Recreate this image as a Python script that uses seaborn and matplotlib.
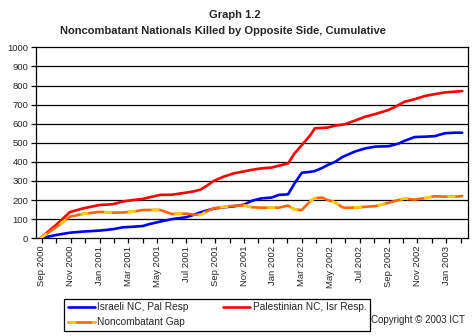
import matplotlib
matplotlib.use("Agg")
import matplotlib.pyplot as plt
from matplotlib.lines import Line2D
from matplotlib.legend_handler import HandlerTuple
import seaborn as sns
import pandas as pd

# months since Sep 2000 (0 = "Sep 2000" tick)
months = [-0.1, 1.0, 1.95, 2.9, 4.0, 4.9, 5.6, 6.3, 7.0, 7.5, 8.2, 9.0, 10.0, 10.5,
          11.0, 11.4, 11.9, 12.6, 13.3, 14.0, 14.5, 15.2, 15.9, 16.4, 17.05, 17.5,
          18.0, 18.6, 18.9, 19.4, 19.8, 20.3, 20.8, 21.0, 21.7, 22.4, 23.1, 24.0,
          24.7, 25.1, 25.8, 26.5, 27.2, 27.9, 28.6, 29.1]
palestinian = [0, 70, 137, 157, 174, 178, 192, 200, 206, 215, 227, 228, 239, 245,
               255, 274, 300, 323, 340, 350, 358, 366, 370, 380, 392, 445,
               488, 541, 576, 578, 580, 590, 595, 598, 617, 637, 651, 672,
               698, 715, 728, 745, 755, 764, 768, 771]
israeli = [0, 17, 29, 35, 40, 47, 57, 60, 64, 75, 87, 100, 110, 122,
           136, 145, 155, 162, 167, 176, 195, 209, 213, 227, 230, 288,
           343, 348, 352, 368, 384, 400, 425, 432, 455, 471, 480, 482,
           496, 510, 530, 532, 535, 550, 553, 553]
gap = [0, 58, 113, 128, 138, 134, 135, 139, 148, 148, 148, 127, 129, 124,
       122, 140, 157, 164, 170, 172, 163, 160, 160, 160, 171, 150,
       148, 195, 210, 213, 200, 188, 162, 160, 160, 165, 168, 186,
       200, 208, 202, 210, 220, 218, 218, 221]

tick_labels = ["Sep 2000", "", "Nov 2000", "", "Jan 2001", "", "Mar 2001", "",
               "May 2001", "", "Jul 2001", "", "Sep 2001", "", "Nov 2001", "",
               "Jan 2002", "", "Mar 2002", "", "May 2002", "", "Jul 2002", "",
               "Sep 2002", "", "Nov 2002", "", "Jan 2003", ""]
y_ticks = [0, 100, 200, 300, 400, 500, 600, 700, 800, 900, 1000]

sns.set_style("white")
plt.rcParams['font.family'] = ['Liberation Sans', 'DejaVu Sans']

df = pd.DataFrame({"month": months, "pal": palestinian, "isr": israeli, "gap": gap})

fig = plt.figure(figsize=(4.73, 3.36), dpi=100)
ax = fig.add_axes([0.0755, 0.291, 0.9139, 0.568])

for v in y_ticks[1:-1]:
    ax.axhline(v, color="black", lw=0.9, zorder=1)

sns.lineplot(data=df, x="month", y="isr", color="#0000FF", lw=1.9, ax=ax, zorder=3)
sns.lineplot(data=df, x="month", y="pal", color="#FF0000", lw=1.9, ax=ax, zorder=3)
sns.lineplot(data=df, x="month", y="gap", color="#FF6600", lw=1.9, ax=ax, zorder=4)
sns.lineplot(data=df, x="month", y="gap", color="#FFCC00", lw=1.9, ax=ax, zorder=5,
             dashes=False).lines[-1].set_dashes([3, 6])

ax.set_xlim(-0.415, 29.5)
ax.set_ylim(0, 1000)
ax.set_xticks(range(len(tick_labels)))
ax.set_xticklabels(tick_labels, rotation=90, fontsize=6.8)
ax.set_yticks(y_ticks)
ax.set_yticklabels([str(v) for v in y_ticks], fontsize=6.8)
ax.set_xlabel("")
ax.set_ylabel("")
ax.tick_params(axis="both", direction="out", length=3.5, width=0.9, color="black",
               bottom=True, left=True, pad=2)
for s in ax.spines.values():
    s.set_color("black")
    s.set_linewidth(0.9)
    s.set_visible(True)

fig.text(0.497, 1 - 15 / 336, "Graph 1.2", ha="center", va="center",
         fontsize=8, fontweight="bold")
fig.text(0.472, 1 - 31 / 336, "Noncombatant Nationals Killed by Opposite Side, Cumulative",
         ha="center", va="center", fontsize=8, fontweight="bold")

h_blue = Line2D([], [], color="#0000FF", lw=1.9)
h_red = Line2D([], [], color="#FF0000", lw=1.9)
h_gap_o = Line2D([], [], color="#FF6600", lw=1.9)
h_gap_y = Line2D([], [], color="#FFCC00", lw=1.9, dashes=[3, 6], dash_capstyle="butt")
leg = fig.legend([h_blue, (h_gap_o, h_gap_y), h_red],
                 ["Israeli NC, Pal Resp", "Noncombatant Gap", "Palestinian NC, Isr Resp."],
                 handler_map={tuple: HandlerTuple(ndivide=1)},
                 ncol=2, loc="lower left", bbox_to_anchor=(64 / 473, 1 - 331 / 336, 306 / 473, 35 / 336),
                 mode="expand", fontsize=7.3, frameon=True, fancybox=False, framealpha=1,
                 edgecolor="black", handlelength=2.7, handletextpad=0.25, columnspacing=3.0,
                 borderpad=0.35, labelspacing=0.5, borderaxespad=0)
leg.get_frame().set_linewidth(0.9)

fig.text(465 / 473, 1 - 320 / 336, "Copyright © 2003 ICT", ha="right", va="center", fontsize=7)

fig.savefig("out.png", dpi=100)
